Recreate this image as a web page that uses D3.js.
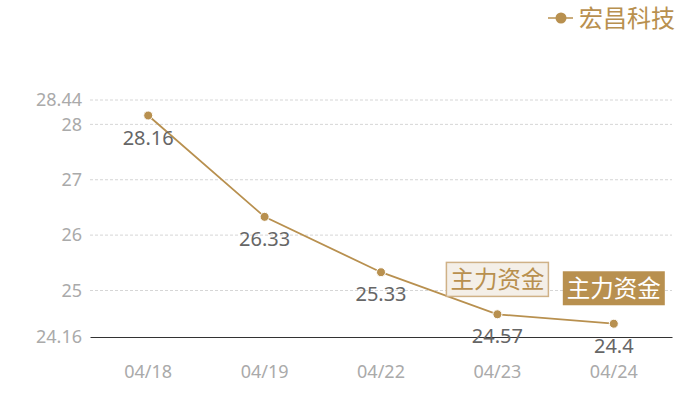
<!DOCTYPE html>
<html>
<head>
<meta charset="utf-8">
<script src="https://cdn.jsdelivr.net/npm/d3@7/dist/d3.min.js"></script>
<style>
  body { margin: 0; background: #fff; }
  svg { font-family: "Noto Sans CJK SC", "Noto Sans", sans-serif; }
</style>
</head>
<body>
<div id="chart"></div>
<script>
var dates = ["04/18", "04/19", "04/22", "04/23", "04/24"];
var prices = [28.16, 26.33, 25.33, 24.57, 24.4];
var yTicks = [24.16, 25, 26, 27, 28, 28.44];
var seriesName = "宏昌科技";
var flagDates = ["04/23", "04/24"];
var flagValues = [25.2, 25.04];
var flagText = "主力资金";

var gold = "#b8904f";

var margin = {top: 100, right: 28, bottom: 63, left: 90},
    width = 700 - margin.left - margin.right,
    height = 400 - margin.top - margin.bottom;

var svg = d3.select("#chart").append("svg")
  .attr("width", 700)
  .attr("height", 400);

var g = svg.append("g")
  .attr("transform", "translate(" + margin.left + "," + margin.top + ")");

var x = d3.scaleBand()
  .domain(dates)
  .range([0, width]);

var y = d3.scaleLinear()
  .domain([24.16, 28.44])
  .range([height, 0]);

// grid
g.selectAll("line.grid")
  .data(yTicks.filter(function(d) { return d != 24.16; }))
  .enter().append("line")
    .attr("class", "grid")
    .attr("x1", 0).attr("x2", width)
    .attr("y1", function(d) { return y(d); })
    .attr("y2", function(d) { return y(d); })
    .attr("stroke", "#d6d6d6")
    .attr("stroke-dasharray", "3,2");

var yAxis = d3.axisLeft(y)
  .tickValues(yTicks)
  .tickFormat(function(d) { return d; })
  .tickSize(0)
  .tickPadding(8);

g.append("g")
  .call(yAxis)
  .call(function(s) { s.select(".domain").remove(); })
  .selectAll("text")
    .attr("fill", "#aaaaaa")
    .attr("font-size", 18)
    .attr("font-family", "'Noto Sans', sans-serif");

var xAxis = d3.axisBottom(x)
  .tickSize(0)
  .tickPadding(28);

var xg = g.append("g")
  .attr("transform", "translate(0," + height + ")")
  .call(xAxis);
xg.select(".domain").attr("stroke", "#333").attr("stroke-width", 1);
xg.selectAll("text")
  .attr("fill", "#aaaaaa")
  .attr("font-size", 18)
  .attr("font-family", "'Noto Sans', sans-serif");

var cx = function(d, i) { return x(dates[i]) + x.bandwidth() / 2; };

var line = d3.line()
  .x(function(d, i) { return cx(d, i); })
  .y(function(d) { return y(d); });

g.append("path")
  .datum(prices)
  .attr("d", line)
  .attr("fill", "none")
  .attr("stroke", gold)
  .attr("stroke-width", 1.8);

g.selectAll("circle.pt")
  .data(prices)
  .enter().append("circle")
    .attr("class", "pt")
    .attr("cx", cx)
    .attr("cy", function(d) { return y(d); })
    .attr("r", 4.5)
    .attr("fill", gold)
    .attr("stroke", "#fff")
    .attr("stroke-width", 1);

g.selectAll("text.val")
  .data(prices)
  .enter().append("text")
    .attr("class", "val")
    .attr("x", cx)
    .attr("y", function(d) { return y(d) + 29; })
    .attr("text-anchor", "middle")
    .attr("fill", "#666")
    .attr("font-size", 20)
    .attr("font-family", "'Noto Sans', sans-serif")
    .text(function(d) { return d; });

// flags
var flags = g.selectAll("g.flag")
  .data(flagDates)
  .enter().append("g")
    .attr("class", "flag")
    .attr("transform", function(d, i) {
      return "translate(" + (x(d) + x.bandwidth() / 2) + "," + y(flagValues[i]) + ")";
    });

flags.append("rect")
  .attr("x", -51).attr("y", -17)
  .attr("width", 102).attr("height", 34)
  .attr("fill", function(d, i) { return i == 0 ? "#f4efe8" : gold; })
  .attr("stroke", function(d, i) { return i == 0 ? "#cfb187" : "none"; })
  .attr("stroke-width", 1.5);

flags.append("text")
  .attr("text-anchor", "middle")
  .attr("dy", "0.36em")
  .attr("font-size", 23.5)
  .attr("fill", function(d, i) { return i == 0 ? gold : "#fff"; })
  .text(flagText);

// legend
var lg = svg.append("g").attr("transform", "translate(548,18)");
lg.append("line")
  .attr("x1", 0).attr("x2", 25)
  .attr("stroke", gold).attr("stroke-width", 1.5);
lg.append("circle")
  .attr("cx", 13).attr("r", 5.5)
  .attr("fill", gold);
lg.append("text")
  .attr("x", 31)
  .attr("dy", "0.36em")
  .attr("font-size", 24)
  .attr("fill", gold)
  .text(seriesName);
</script>
</body>
</html>
